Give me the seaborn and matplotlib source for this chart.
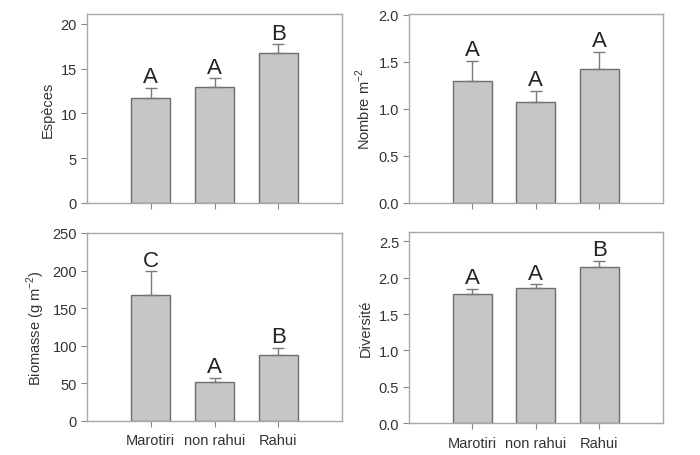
import matplotlib
matplotlib.use("Agg")
import matplotlib.pyplot as plt
import seaborn as sns
import pandas as pd

sites = ["Marotiri", "non rahui", "Rahui"]

especes = [11.7, 13.0, 16.7]
especes_err = [1.15, 0.9, 1.0]
especes_letters = ["A", "A", "B"]

nombre = [1.30, 1.07, 1.43]
nombre_err = [0.21, 0.12, 0.18]
nombre_letters = ["A", "A", "A"]

biomasse = [167, 52, 87]
biomasse_err = [32, 5, 10]
biomasse_letters = ["C", "A", "B"]

diversite = [1.77, 1.86, 2.15]
diversite_err = [0.08, 0.05, 0.08]
diversite_letters = ["A", "A", "B"]

sns.set_style("white")
plt.rcParams["font.family"] = ["Liberation Sans", "DejaVu Sans"]

fig = plt.figure(figsize=(7, 4.56), dpi=100)

panels = [
    dict(vals=especes, err=especes_err, letters=especes_letters, ylabel="Espèces",
         ylim=(0, 21.1), ticks=[0, 5, 10, 15, 20], fmt="{:.0f}",
         rect=[0.124, 0.553, 0.365, 0.414], xlabels=False),
    dict(vals=nombre, err=nombre_err, letters=nombre_letters, ylabel="Nombre m$^{\\mathregular{-2}}$",
         ylim=(0, 2.01), ticks=[0, 0.5, 1.0, 1.5, 2.0], fmt="{:.1f}",
         rect=[0.584, 0.553, 0.363, 0.414], xlabels=False),
    dict(vals=biomasse, err=biomasse_err, letters=biomasse_letters, ylabel="Biomasse (g m$^{\\mathregular{-2}}$)",
         ylim=(0, 250), ticks=[0, 50, 100, 150, 200, 250], fmt="{:.0f}",
         rect=[0.124, 0.075, 0.365, 0.412], xlabels=True),
    dict(vals=diversite, err=diversite_err, letters=diversite_letters, ylabel="Diversité",
         ylim=(0, 2.63), ticks=[0, 0.5, 1.0, 1.5, 2.0, 2.5], fmt="{:.1f}",
         rect=[0.584, 0.070, 0.363, 0.419], xlabels=True),
]

text_color = "#333333"
frame_color = "#a8a8a8"

for p in panels:
    ax = fig.add_axes(p["rect"])
    df = pd.DataFrame({"site": sites, "val": p["vals"]})
    sns.barplot(data=df, x="site", y="val", ax=ax, color="#c6c6c6", saturation=1,
                width=0.61, edgecolor="#6e6e6e", linewidth=1.0, errorbar=None)
    xs = list(range(len(sites)))
    ax.errorbar(xs, p["vals"], yerr=[[0] * 3, p["err"]], fmt="none",
                ecolor="#7a7a7a", elinewidth=1.0, capsize=4, capthick=1.0, zorder=1)
    for x, v, e, lab in zip(xs, p["vals"], p["err"], p["letters"]):
        ax.annotate(lab, (x, v + e), xytext=(0, 0.5), textcoords="offset points",
                    ha="center", va="bottom", fontsize=16, color="#222222")
    ax.set_xlim(-1, 3)
    ax.set_ylim(*p["ylim"])
    ax.set_yticks(p["ticks"])
    ax.set_yticklabels([p["fmt"].format(t) for t in p["ticks"]])
    ax.set_xticks(xs)
    if p["xlabels"]:
        ax.set_xticklabels(sites)
    else:
        ax.set_xticklabels([])
    ax.set_xlabel("")
    ax.set_ylabel(p["ylabel"], fontsize=10.5, color=text_color, labelpad=4)
    for s in ax.spines.values():
        s.set_visible(True)
        s.set_color(frame_color)
        s.set_linewidth(1.0)
    ax.tick_params(axis="both", which="both", direction="out", length=4,
                   width=0.8, color="#888888", labelsize=10.5, labelcolor=text_color,
                   left=True, bottom=True, pad=3)
    ax.tick_params(axis="x", pad=5)

fig.savefig("out.png", dpi=100, facecolor="white")
